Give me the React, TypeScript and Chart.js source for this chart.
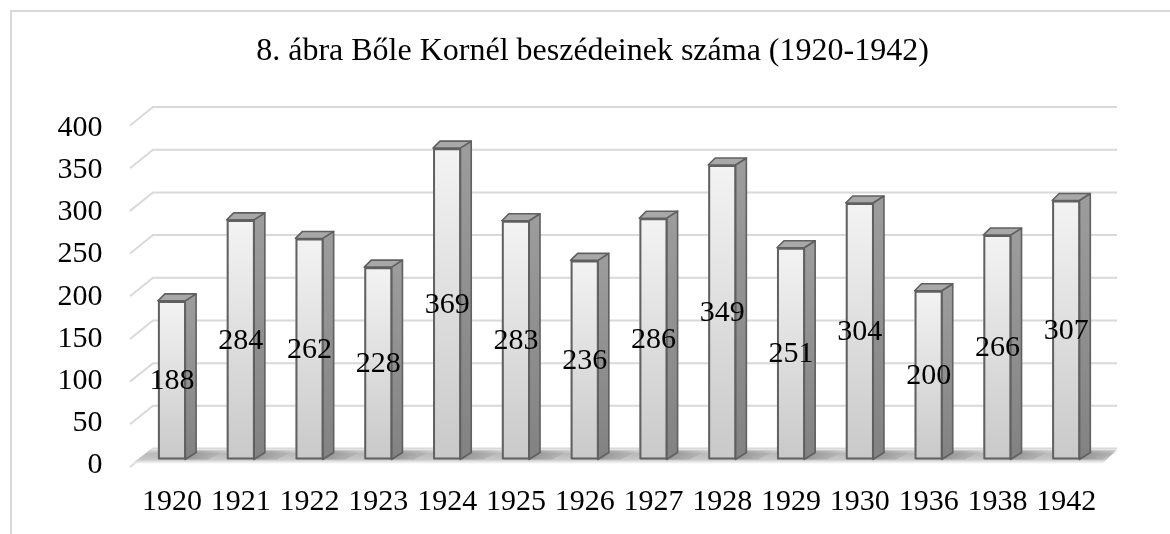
import React, { useEffect, useRef } from "react";
import { Chart, registerables } from "chart.js";

Chart.register(...registerables);

const TITLE = "8. ábra Bőle Kornél beszédeinek száma (1920-1942)";
const YEARS = ["1920", "1921", "1922", "1923", "1924", "1925", "1926", "1927", "1928", "1929", "1930", "1936", "1938", "1942"];
const SPEECHES = [188, 284, 262, 228, 369, 283, 236, 286, 349, 251, 304, 200, 266, 307];
const Y_MIN = 0;
const Y_MAX = 400;
const Y_STEP = 50;

const FONT = '"Liberation Serif", "Times New Roman", serif';

const threeD = {
  id: "threeD",
  beforeDraw(chart: any) {
    const ctx = chart.ctx;
    ctx.save();
    ctx.strokeStyle = "#d9d9d9";
    ctx.lineWidth = 2;
    ctx.beginPath();
    ctx.moveTo(11, chart.height);
    ctx.lineTo(11, 11);
    ctx.lineTo(chart.width, 11);
    ctx.stroke();
    ctx.fillStyle = "#000";
    ctx.font = `32px ${FONT}`;
    ctx.textAlign = "center";
    ctx.textBaseline = "alphabetic";
    ctx.fillText(TITLE, 592.5, 60);
    ctx.restore();
  },
  beforeDatasetsDraw(chart: any) {
    const ctx = chart.ctx;
    const { left, right } = chart.chartArea;
    const ys = chart.scales.y;
    const backL = left + 15.4;
    const frontL = left - 7.6;
    const backR = right + 16.4;
    ctx.save();
    ctx.strokeStyle = "#d9d9d9";
    ctx.lineWidth = 2;
    for (const t of ys.ticks) {
      const v = t.value;
      const yb = ys.getPixelForValue(v) - 11 - (v / Y_MAX) * 4;
      ctx.beginPath();
      ctx.moveTo(frontL, yb + 18.5);
      ctx.lineTo(backL, yb);
      ctx.lineTo(backR, yb);
      ctx.stroke();
    }
    const y0 = ys.getPixelForValue(0);
    const fb = y0 - 11;
    const ff = y0 + 4;
    const g = ctx.createLinearGradient(0, fb, 0, ff);
    g.addColorStop(0, "rgba(228,228,228,1)");
    g.addColorStop(0.35, "rgba(185,185,185,1)");
    g.addColorStop(0.75, "rgba(200,200,200,1)");
    g.addColorStop(1, "rgba(240,240,240,0.6)");
    ctx.fillStyle = g;
    ctx.beginPath();
    ctx.moveTo(frontL + 2, ff);
    ctx.lineTo(backL - 2, fb + 1);
    ctx.lineTo(backR, fb + 1);
    ctx.lineTo(right + 2, ff);
    ctx.closePath();
    ctx.fill();
    const meta = chart.getDatasetMeta(0);
    for (const bar of meta.data) {
      const { x, width } = bar.getProps(["x", "width"], true);
      const xR = x + width / 2;
      const sg = ctx.createLinearGradient(xR, 0, xR + 40, 0);
      sg.addColorStop(0, "rgba(120,120,120,0.6)");
      sg.addColorStop(1, "rgba(120,120,120,0)");
      ctx.fillStyle = sg;
      ctx.beginPath();
      ctx.moveTo(xR, y0);
      ctx.lineTo(xR + 10, fb + 2);
      ctx.lineTo(xR + 40, fb + 2);
      ctx.lineTo(xR + 22, y0);
      ctx.closePath();
      ctx.fill();
    }
    ctx.restore();
  },
  afterDatasetsDraw(chart: any) {
    const ctx = chart.ctx;
    const meta = chart.getDatasetMeta(0);
    const data = chart.data.datasets[0].data;
    ctx.save();
    meta.data.forEach((bar: any) => {
      const { x, y, base, width } = bar.getProps(["x", "y", "base", "width"], true);
      const xL = x - width / 2;
      const xR = x + width / 2;
      const fg = ctx.createLinearGradient(0, y, 0, base);
      fg.addColorStop(0, "#f3f3f3");
      fg.addColorStop(1, "#c9c9c9");
      ctx.fillStyle = fg;
      ctx.fillRect(xL, y, width, base - y);
      const sg = ctx.createLinearGradient(0, y, 0, base);
      sg.addColorStop(0, "#9c9c9c");
      sg.addColorStop(1, "#828282");
      ctx.fillStyle = sg;
      ctx.strokeStyle = "#606060";
      ctx.lineWidth = 1.6;
      ctx.lineJoin = "round";
      ctx.beginPath();
      ctx.moveTo(xR - 1, y);
      ctx.lineTo(xR + 10, y - 7);
      ctx.lineTo(xR + 10, base - 7);
      ctx.lineTo(xR - 1, base);
      ctx.closePath();
      ctx.fill();
      ctx.stroke();
      ctx.fillStyle = "#a8a8a8";
      ctx.beginPath();
      ctx.moveTo(xL, y);
      ctx.lineTo(xL + 7, y - 7);
      ctx.lineTo(xR + 10, y - 7);
      ctx.lineTo(xR - 1, y);
      ctx.closePath();
      ctx.fill();
      ctx.stroke();
      ctx.lineWidth = 2;
      ctx.strokeRect(xL + 1, y + 1, width - 2, base - y - 2);
    });
    ctx.fillStyle = "#000";
    ctx.font = `30px ${FONT}`;
    ctx.textAlign = "center";
    ctx.textBaseline = "middle";
    meta.data.forEach((bar: any, i: number) => {
      const { x, y, base } = bar.getProps(["x", "y", "base"], true);
      ctx.fillText(String(data[i]), x, (y + base) / 2 + 1);
    });
    ctx.restore();
  },
};

export default function App() {
  const ref = useRef<HTMLCanvasElement>(null);
  useEffect(() => {
    if (!ref.current) return;
    const chart = new Chart(ref.current, {
      type: "bar",
      data: {
        labels: YEARS,
        datasets: [
          {
            data: SPEECHES,
            backgroundColor: "rgba(0,0,0,0)",
            borderWidth: 0,
            barPercentage: 0.41,
            categoryPercentage: 1,
          },
        ],
      },
      options: {
        responsive: false,
        animation: false,
        devicePixelRatio: 1,
        layout: { padding: { left: 0, right: 69.4, top: 122, bottom: 0 } },
        plugins: {
          legend: { display: false },
          tooltip: { enabled: false },
          title: { display: false },
        },
        scales: {
          x: {
            grid: { display: false },
            border: { display: false },
            ticks: { color: "#000", font: { family: FONT, size: 30 }, padding: 17, maxRotation: 0, autoSkip: false },
            afterFit: (s: any) => {
              s.height = 74.5;
            },
          },
          y: {
            min: Y_MIN,
            max: Y_MAX,
            grid: { display: false, drawTicks: false },
            border: { display: false },
            ticks: { stepSize: Y_STEP, color: "#000", font: { family: FONT, size: 30 }, padding: 35, labelOffset: 6 },
            afterFit: (s: any) => {
              s.width = 137.6;
            },
          },
        },
      },
      plugins: [threeD],
    });
    return () => chart.destroy();
  }, []);
  return (
    <div style={{ position: "fixed", left: 0, top: 0, width: 1170, height: 534, background: "#fff" }}>
      <canvas ref={ref} width={1170} height={534} />
    </div>
  );
}
